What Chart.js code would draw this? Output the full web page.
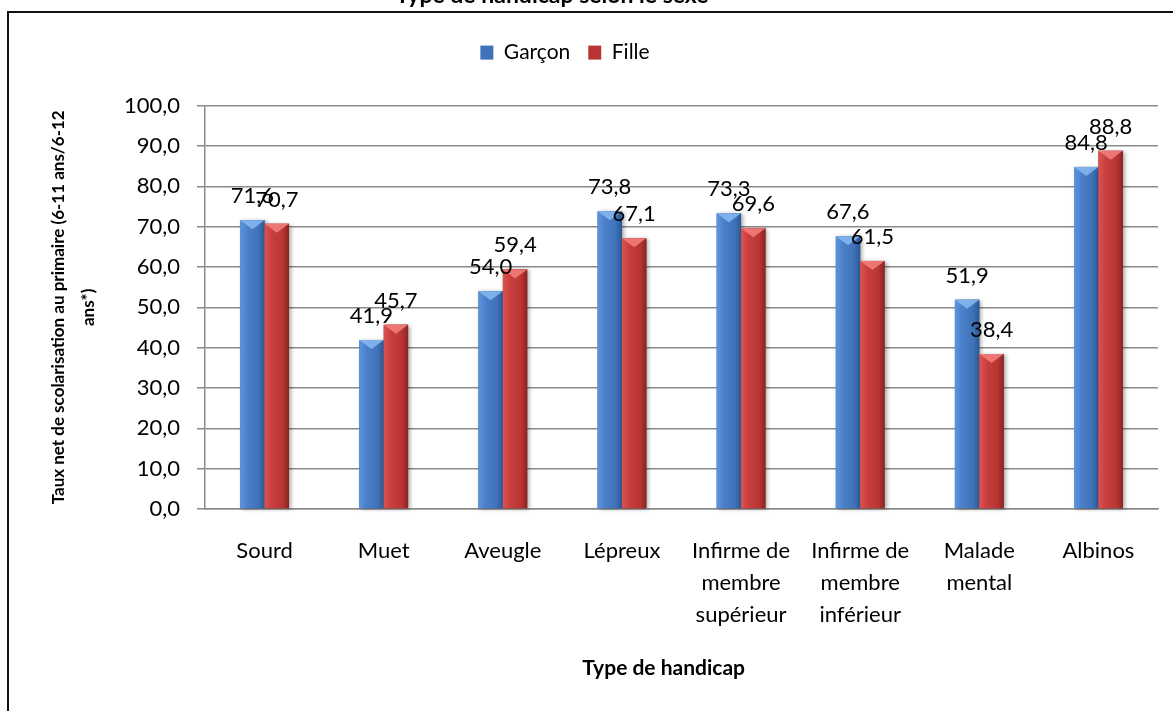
<!DOCTYPE html>
<html>
<head>
<meta charset="utf-8">
<script src="https://cdn.jsdelivr.net/npm/chart.js@4/dist/chart.umd.min.js"></script>
<style>
  html, body { margin: 0; padding: 0; background: #fff; }
  #wrap { position: relative; width: 1173px; height: 711px; overflow: hidden; background: #fff; }
  #c { position: absolute; left: 0; top: -20px; }
  #frame { position: absolute; left: 7px; top: 11px; width: 1300px; height: 800px;
           border-left: 2px solid #111; border-top: 2px solid #111; pointer-events: none; }
</style>
</head>
<body>
<div id="wrap">
  <canvas id="c" width="1173" height="731"></canvas>
  <div id="frame"></div>
</div>
<script>
// ---- data ----
const chartTitle = 'Type de handicap selon le sexe';
const categories = [
  ['Sourd'], ['Muet'], ['Aveugle'], ['Lépreux'],
  ['Infirme de', 'membre', 'supérieur'],
  ['Infirme de', 'membre', 'inférieur'],
  ['Malade', 'mental'], ['Albinos']
];
const seriesNames = ['Garçon', 'Fille'];
const garcon = [71.6, 41.9, 54.0, 73.8, 73.3, 67.6, 51.9, 84.8];
const fille  = [70.7, 45.7, 59.4, 67.1, 69.6, 61.5, 38.4, 88.8];
const yMin = 0, yMax = 100, yStep = 10;
const yTitle = ['Taux net de scolarisation au primaire (6-11 ans/6-12', 'ans*)'];
const xTitle = 'Type de handicap';

// ---- styles ----
const FONT = 'Lato, "Open Sans", sans-serif';
const palettes = [
  ['#5d95dc', '#4a80c9', '#3f72b8', '#2c5894', '#86b6f0'],
  ['#dc5452', '#c83f3d', '#b83533', '#8a2421', '#f27d7b']
];
const fmt = v => v.toFixed(1).replace('.', ',');

const barStyle = {
  id: 'barStyle',
  afterDatasetsDraw(chart) {
    const ctx = chart.ctx;
    chart.data.datasets.forEach((ds, di) => {
      const meta = chart.getDatasetMeta(di);
      const pal = palettes[di];
      meta.data.forEach(bar => {
        const {x, y, width, base} = bar.getProps(['x', 'y', 'width', 'base'], true);
        const l = x - width / 2, r = x + width / 2;
        ctx.save();
        ctx.shadowColor = 'rgba(0,0,0,0.35)';
        ctx.shadowBlur = 4; ctx.shadowOffsetX = 2; ctx.shadowOffsetY = 1;
        const g = ctx.createLinearGradient(l, 0, r, 0);
        g.addColorStop(0, pal[0]); g.addColorStop(0.3, pal[1]);
        g.addColorStop(0.75, pal[2]); g.addColorStop(1, pal[3]);
        ctx.fillStyle = g;
        ctx.fillRect(l, y, width, base - y);
        ctx.restore();
        const h = Math.min(9, (base - y) / 2);
        ctx.save();
        ctx.fillStyle = pal[4];
        ctx.globalAlpha = 0.9;
        ctx.beginPath();
        ctx.moveTo(l, y); ctx.lineTo(r, y); ctx.lineTo(x, y + h); ctx.closePath();
        ctx.fill();
        ctx.restore();
      });
    });
  }
};

const dataLabels = {
  id: 'dataLabels',
  afterDatasetsDraw(chart) {
    const ctx = chart.ctx;
    ctx.save();
    ctx.font = '22px ' + FONT;
    ctx.fillStyle = '#000';
    ctx.textAlign = 'center';
    ctx.textBaseline = 'middle';
    chart.data.datasets.forEach((ds, di) => {
      const meta = chart.getDatasetMeta(di);
      meta.data.forEach((bar, i) => {
        ctx.fillText(fmt(ds.data[i]), bar.x, bar.y - 24);
      });
    });
    ctx.restore();
  }
};

const shiftTop = {
  id: 'shiftTop',
  afterLayout(chart) {
    if (chart.titleBlock) { chart.titleBlock.left -= 27; chart.titleBlock.right -= 27; }
    if (chart.legend) { chart.legend.left -= 14; chart.legend.right -= 14; }
  }
};

new Chart(document.getElementById('c'), {
  type: 'bar',
  data: {
    labels: categories,
    datasets: [
      { label: seriesNames[0], data: garcon, backgroundColor: palettes[0][2], borderWidth: 0,
        categoryPercentage: 0.41, barPercentage: 1.0 },
      { label: seriesNames[1], data: fille, backgroundColor: palettes[1][2], borderWidth: 0,
        categoryPercentage: 0.41, barPercentage: 1.0 }
    ]
  },
  options: {
    responsive: false,
    maintainAspectRatio: false,
    animation: false,
    layout: { padding: { left: 0, right: 15, top: 0, bottom: 0 } },
    plugins: {
      title: {
        display: true, text: chartTitle, color: '#000',
        font: { family: FONT, size: 23, weight: 'bold' },
        padding: { top: 2.2, bottom: 14.3 }
      },
      subtitle: {
        display: true, text: ' ', weight: 500,
        font: { size: 1, lineHeight: 1 },
        padding: { top: 0, bottom: 31.5 }
      },
      legend: {
        display: true, position: 'top',
        labels: {
          color: '#000', font: { family: FONT, size: 21 },
          boxWidth: 13, boxHeight: 14, padding: 18
        }
      },
      tooltip: { enabled: false }
    },
    scales: {
      x: {
        grid: { display: false, drawTicks: false, tickLength: 0 },
        border: { display: true, color: '#8a8a8a', width: 1.5 },
        ticks: { color: '#000', font: { family: FONT, size: 22, lineHeight: 1.45 }, padding: 26,
                 maxRotation: 0, autoSkip: false },
        title: { display: true, text: xTitle + '       ', color: '#000',
                 font: { family: FONT, size: 21, weight: 'bold' },
                 padding: { top: 0, bottom: 30 } },
        afterFit(scale) { scale.height = 202; }
      },
      y: {
        min: yMin, max: yMax,
        grid: { color: '#8a8a8a', lineWidth: 1.5, drawTicks: true, tickLength: 8 },
        border: { display: true, color: '#8a8a8a', width: 1.5 },
        ticks: { stepSize: yStep, color: '#000', font: { family: FONT, size: 22 }, padding: 17,
                 callback: v => fmt(v) },
        title: { display: true, text: yTitle, color: '#000',
                 font: { family: FONT, size: 17, weight: 'bold', lineHeight: 1.8 },
                 padding: { top: 43, bottom: 0 } },
        afterFit(scale) { scale.width = 205; }
      }
    }
  },
  plugins: [barStyle, dataLabels, shiftTop]
});
</script>
</body>
</html>
